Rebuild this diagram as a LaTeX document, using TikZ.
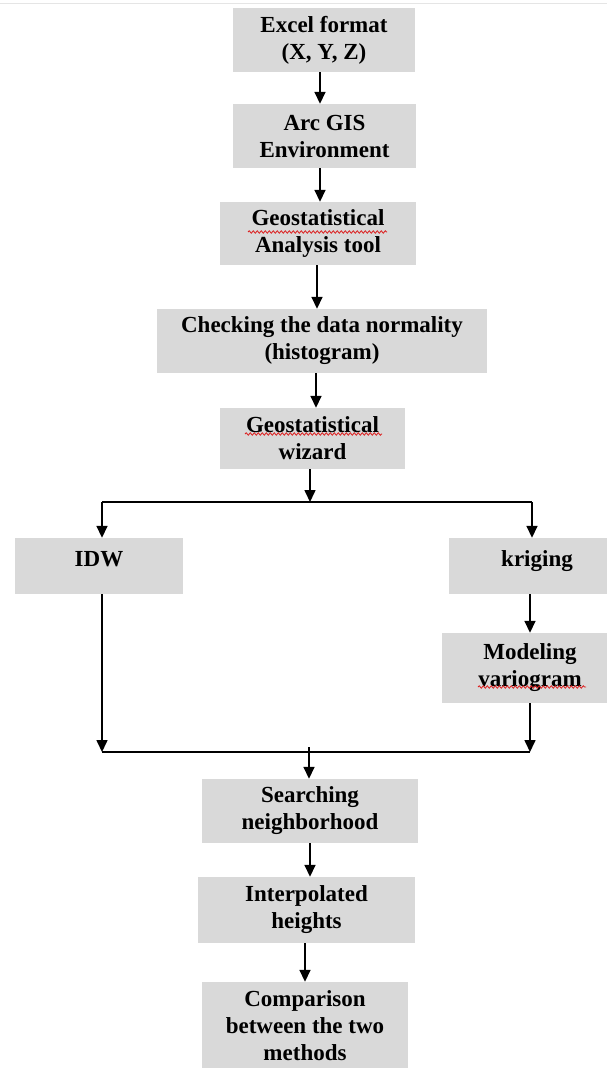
\documentclass[tikz,border=0pt]{standalone}
\usepackage{fontspec}
\setmainfont{Liberation Serif}
\usetikzlibrary{arrows.meta,decorations.pathmorphing}
\definecolor{boxgray}{RGB}{217,217,217}
\definecolor{squig}{RGB}{220,30,30}
\begin{document}
\begin{tikzpicture}[x=1pt,y=1pt,
  box/.style={fill=boxgray, inner sep=0pt, align=center, text=black,
    font=\bfseries\fontsize{23}{27}\selectfont},
  conn/.style={line width=1.6pt, draw=black},
  arr/.style={conn, -{Triangle[width=11pt,length=12pt]}},
  spell/.style={draw=squig, line width=0.8pt,
    decorate, decoration={snake, amplitude=1.2pt, segment length=4pt}}]
\useasboundingbox (0,0) rectangle (607,-1068);
\clip (0,0) rectangle (607,-1068);
\draw[gray!20, line width=1pt] (0,-3) -- (607,-3);

\node[box, minimum width=182, minimum height=64] (excel) at (324,-40) {Excel format\\ (X, Y, Z)};
\node[box, minimum width=183, minimum height=64] (arc) at (324.5,-136) {Arc GIS\\Environment};
\node[box, minimum width=196, minimum height=63] (tool) at (318,-233.5) {Geostatistical\\Analysis tool};
\node[box, minimum width=330, minimum height=64] (check) at (322,-341) {Checking the data normality\\(histogram)};
\node[box, minimum width=185, minimum height=61] (wizard) at (312.5,-438.5) {Geostatistical\\wizard};
\node[box, minimum width=168, minimum height=56, text depth=15pt] (idw) at (99,-566) {IDW};
\node[box, minimum width=176, minimum height=56, text depth=15pt] (krig) at (537,-566) {kriging};
\node[box, minimum width=176, minimum height=70] (model) at (530,-668) {Modeling\\variogram};
\node[box, minimum width=216, minimum height=64] (search) at (310,-811) {Searching\\neighborhood};
\node[box, minimum width=217, minimum height=66] (interp) at (306.5,-910) {Interpolated\\heights};
\node[box, minimum width=206, minimum height=88] (comp) at (305,-1026) {Comparison\\between the two\\methods};

% spell-check squiggles
\draw[spell] (248,-232) -- (387,-232);
\draw[spell] (245,-434) -- (382,-434);
\draw[spell] (478,-687) -- (586,-687);

\coordinate (split) at (310,-502);
\coordinate (splitL) at (102,-502);
\coordinate (splitR) at (532,-502);
\coordinate (joinL) at (102,-752);
\coordinate (joinR) at (530,-752);
\coordinate (join) at (309,-747);

\draw[arr] ([xshift=-4pt]excel.south) -- ([xshift=-4pt]excel.south |- arc.north);
\draw[arr] ([xshift=-4.5pt]arc.south) -- ([xshift=-4.5pt]arc.south |- tool.north);
\draw[arr] ([xshift=-1pt]tool.south) -- ([xshift=-1pt]tool.south |- check.north);
\draw[arr] ([xshift=-6pt]check.south) -- ([xshift=-6pt]check.south |- wizard.north);
\draw[arr] ([xshift=-2.5pt]wizard.south) -- (split);
\draw[conn] (splitL) -- (splitR);
\draw[arr] (splitL) -- (splitL |- idw.north);
\draw[arr] (splitR) -- (splitR |- krig.north);
\draw[arr] (krig.south -| joinR) -- (joinR |- model.north);
\draw[arr] (idw.south -| joinL) -- (joinL);
\draw[arr] (model.south -| joinR) -- (joinR);
\draw[conn] (joinL) -- (joinR);
\draw[arr] (join) -- (join |- search.north);
\draw[arr] (search.south) -- (search.south |- interp.north);
\draw[arr] ([xshift=-1.5pt]interp.south) -- ([xshift=-1.5pt]interp.south |- comp.north);
\end{tikzpicture}
\end{document}
